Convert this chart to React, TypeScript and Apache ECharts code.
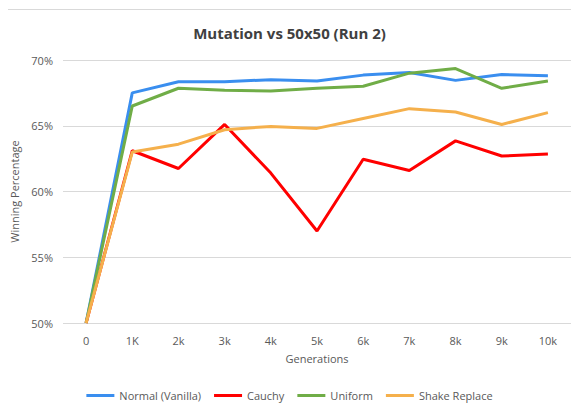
import React, { useEffect, useRef } from "react";
import * as echarts from "echarts";

const categories = ["0", "1K", "2k", "3k", "4k", "5k", "6k", "7k", "8k", "9k", "10k"];
const normalVanilla = [50, 67.5, 68.35, 68.35, 68.5, 68.4, 68.85, 69.05, 68.45, 68.9, 68.8];
const cauchy = [50, 63.1, 61.75, 65.1, 61.4, 57.0, 62.45, 61.6, 63.85, 62.7, 62.85];
const uniform = [50, 66.5, 67.85, 67.7, 67.65, 67.85, 68.0, 69.0, 69.35, 67.85, 68.4];
const shakeReplace = [50, 63.0, 63.6, 64.7, 64.95, 64.8, 65.55, 66.3, 66.05, 65.1, 66.0];

const FONT = "'Open Sans', 'Noto Sans', sans-serif";

export default function App() {
  const ref = useRef<HTMLDivElement>(null);
  useEffect(() => {
    if (!ref.current) return;
    const chart = echarts.init(ref.current, undefined, { renderer: "svg" });
    const mk = (name: string, data: number[], color: string) => ({
      name,
      type: "line",
      data,
      symbol: "none",
      lineStyle: { width: 3, color },
      itemStyle: { color },
    });
    chart.setOption({
      animation: false,
      backgroundColor: "#ffffff",
      title: {
        text: "Mutation vs 50x50 (Run 2)",
        left: "center",
        top: 20,
        textStyle: { fontFamily: FONT, fontSize: 15, fontWeight: "bold", color: "#404040" },
      },
      graphic: [
        { type: "line", shape: { x1: 0, y1: 9.5, x2: 579, y2: 9.5 }, style: { stroke: "#d9d9d9", lineWidth: 1 } },
      ],
      grid: { left: 63, right: 8, top: 60, bottom: 91, containLabel: false },
      legend: {
        bottom: 8,
        left: "center",
        icon: "rect",
        itemWidth: 28,
        itemHeight: 3,
        itemGap: 13,
        textStyle: { fontFamily: FONT, fontSize: 11, color: "#595959" },
        data: ["Normal (Vanilla)", "Cauchy", "Uniform", "Shake Replace"],
      },
      xAxis: {
        type: "category",
        data: categories,
        boundaryGap: true,
        name: "Generations",
        nameLocation: "middle",
        nameGap: 30,
        nameTextStyle: { fontFamily: FONT, fontSize: 11, color: "#595959" },
        axisLine: { show: false },
        axisTick: { show: false },
        axisLabel: { fontFamily: FONT, fontSize: 11, color: "#595959", margin: 12 },
      },
      yAxis: {
        type: "value",
        min: 50,
        max: 70,
        interval: 5,
        name: "Winning Percentage",
        nameLocation: "middle",
        nameGap: 39,
        nameTextStyle: { fontFamily: FONT, fontSize: 11, color: "#595959" },
        axisLabel: { formatter: "{value}%", fontFamily: FONT, fontSize: 11, color: "#595959", margin: 10 },
        splitLine: { lineStyle: { color: "#d9d9d9", width: 1 } },
        axisLine: { show: false },
        axisTick: { show: false },
      },
      series: [
        mk("Normal (Vanilla)", normalVanilla, "#3A8EEF"),
        mk("Cauchy", cauchy, "#FF0000"),
        mk("Uniform", uniform, "#70AD47"),
        mk("Shake Replace", shakeReplace, "#F5B04C"),
      ],
    });
    return () => chart.dispose();
  }, []);
  return <div ref={ref} style={{ width: 579, height: 414, margin: -8 }} />;
}
